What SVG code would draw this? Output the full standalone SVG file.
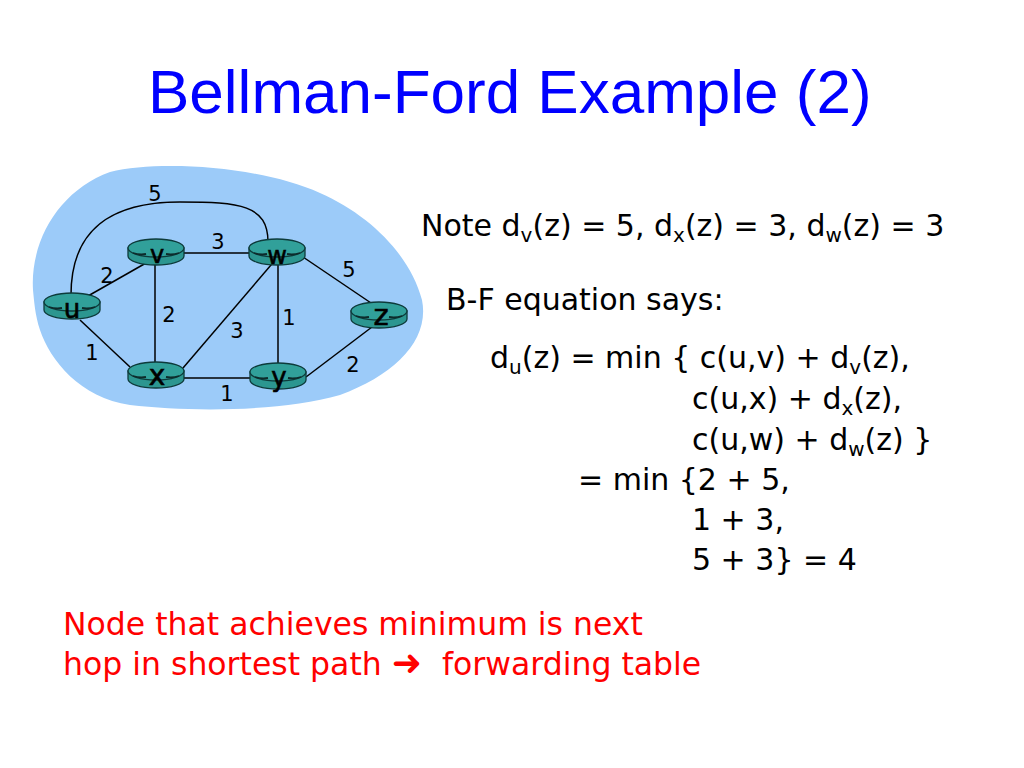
<svg xmlns="http://www.w3.org/2000/svg" width="1024" height="768" viewBox="0 0 1024 768">
<style>
.title{font-family:"Liberation Sans",Arial,sans-serif;font-size:62px;fill:#0000ff}
.txt{font-family:"DejaVu Sans","Liberation Sans",sans-serif;font-size:30px;fill:#000}
.sub{font-size:20px}
.red{font-family:"DejaVu Sans","Liberation Sans",sans-serif;font-size:31.5px;fill:#ff0000}
.w{font-family:"DejaVu Sans","Liberation Sans",sans-serif;font-size:21px;fill:#000;text-anchor:middle}
.nl{font-family:"DejaVu Sans","Liberation Sans",sans-serif;fill:#000;text-anchor:middle;stroke:#000;stroke-width:0.6}
.edge{stroke:#000;stroke-width:1.5;fill:none}
.body{fill:#2c9690;stroke:#0d3b3b;stroke-width:1.3}
.top{fill:#31a09a;stroke:#0d3b3b;stroke-width:1.3}
.dash{stroke:#0d2b2b;stroke-width:1.8;fill:none}
</style>
<rect width="1024" height="768" fill="#fff"/>
<text class="title" x="148" y="113">Bellman-Ford Example (2)</text>
<path d="M33,290 C30,240 60,190 110,172 C160,160 260,166 320,193 C370,215 410,255 422,300 C430,340 395,375 340,395 C280,412 190,412 130,405 C80,398 50,360 40,330 C35,315 34,300 33,290 Z" fill="#9ccbf9"/>
<g id="connectors">
<path class="edge" d="M71,295 C71,230 110,202 180,202 C240,202 268,205 268,242"/>
<line class="edge" x1="88" y1="296" x2="146" y2="263"/>
<line class="edge" x1="184" y1="253" x2="250" y2="253"/>
<line class="edge" x1="155" y1="262" x2="155" y2="366"/>
<line class="edge" x1="80" y1="320" x2="130" y2="367"/>
<line class="edge" x1="183" y1="368" x2="277" y2="258"/>
<line class="edge" x1="278" y1="258" x2="278" y2="368"/>
<line class="edge" x1="303" y1="257" x2="374" y2="305"/>
<line class="edge" x1="184" y1="378" x2="250" y2="378"/>
<line class="edge" x1="306" y1="377" x2="372" y2="327"/>
<text class="w" x="155" y="201">5</text>
<text class="w" x="218" y="249">3</text>
<text class="w" x="107" y="283">2</text>
<text class="w" x="169" y="322">2</text>
<text class="w" x="92" y="360">1</text>
<text class="w" x="237" y="338">3</text>
<text class="w" x="289" y="325">1</text>
<text class="w" x="349" y="277">5</text>
<text class="w" x="227" y="401">1</text>
<text class="w" x="353" y="372">2</text>
</g>
<defs>
<g id="router">
<path class="body" d="M-28,0 L-28,8 A28,9 0 0 0 28,8 L28,0 Z"/>
<ellipse class="top" cx="0" cy="0" rx="28" ry="9"/>
<path class="dash" d="M-23,5 Q-17,7 -10,6 M10,6 Q17,7 23,5"/>
</g>
</defs>
<g id="node-u"><use href="#router" x="72" y="302"/><text class="nl" x="72" y="318" font-size="26">u</text></g>
<g id="node-v"><use href="#router" x="156" y="248"/><text class="nl" x="157" y="263" font-size="24">v</text></g>
<g id="node-w"><use href="#router" x="277" y="248"/><text class="nl" x="277" y="264" font-size="24">w</text></g>
<g id="node-x"><use href="#router" x="156" y="371"/><text class="nl" x="157" y="385" font-size="28">x</text></g>
<g id="node-y"><use href="#router" x="278" y="372"/><text class="nl" x="279" y="386" font-size="26">y</text></g>
<g id="node-z"><use href="#router" x="379" y="311"/><text class="nl" x="381" y="325" font-size="29">z</text></g>
<text class="txt" x="421" y="236">Note d<tspan class="sub" dy="6">v</tspan><tspan dy="-6">(z) = 5, d</tspan><tspan class="sub" dy="6">x</tspan><tspan dy="-6">(z) = 3, d</tspan><tspan class="sub" dy="6">w</tspan><tspan dy="-6">(z) = 3</tspan></text>
<text class="txt" x="446" y="310">B-F equation says:</text>
<text class="txt" x="490" y="368">d<tspan class="sub" dy="6">u</tspan><tspan dy="-6">(z) = min { c(u,v) + d</tspan><tspan class="sub" dy="6">v</tspan><tspan dy="-6">(z),</tspan></text>
<text class="txt" x="692" y="409">c(u,x) + d<tspan class="sub" dy="6">x</tspan><tspan dy="-6">(z),</tspan></text>
<text class="txt" x="692" y="450">c(u,w) + d<tspan class="sub" dy="6">w</tspan><tspan dy="-6">(z) }</tspan></text>
<text class="txt" x="578" y="490">= min {2 + 5,</text>
<text class="txt" x="692" y="530">1 + 3,</text>
<text class="txt" x="692" y="570">5 + 3}<tspan x="803">= 4</tspan></text>
<text class="red" x="63" y="635">Node that achieves minimum is next</text>
<text class="red" x="63" y="675" xml:space="preserve">hop in shortest path <tspan font-size="36">➜</tspan>  forwarding table</text>
</svg>
